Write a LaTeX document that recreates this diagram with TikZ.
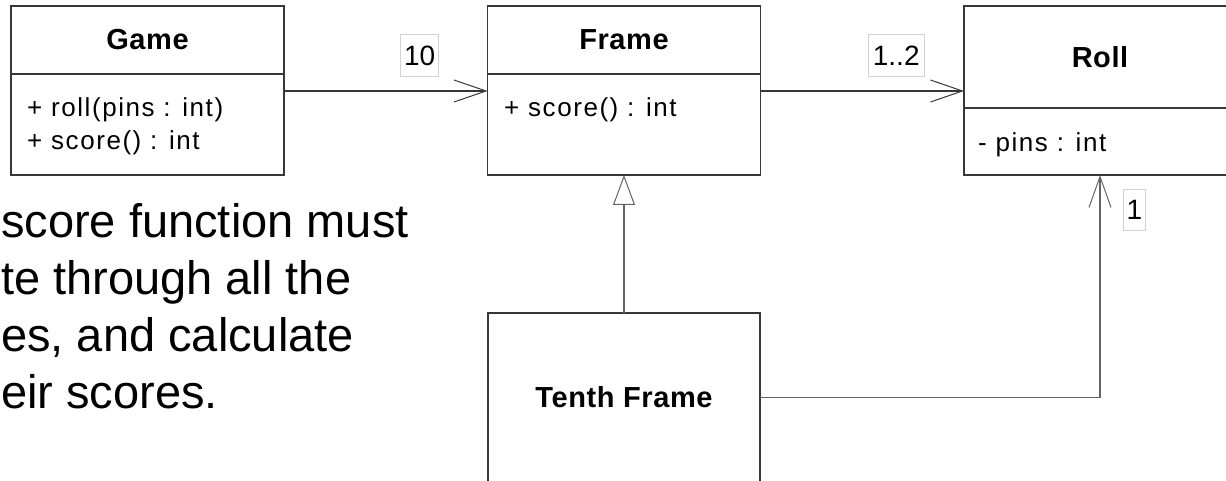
\documentclass[tikz,border=0pt]{standalone}
\usepackage{fontspec}
\setmainfont{Liberation Sans}
\newfontfamily\umlfont[LetterSpace=6]{Liberation Sans}
\newfontfamily\headfont[LetterSpace=2]{Liberation Sans}
\usetikzlibrary{arrows.meta,positioning}
\definecolor{boxgray}{RGB}{55,55,55}
\definecolor{linkgray}{RGB}{100,100,100}
\definecolor{tagborder}{RGB}{210,210,210}

\begin{document}
\begin{tikzpicture}[
  x=1pt, y=-1pt,
  classhead/.style={
    draw=boxgray,
    line width=1.2pt,
    minimum width=273pt,
    minimum height=68pt,
    inner sep=0pt, outer sep=0pt,
    font=\headfont\fontsize{29}{33}\selectfont\bfseries
  },
  classbody/.style={
    draw=boxgray,
    line width=1.2pt,
    minimum width=273pt,
    minimum height=101pt,
    inner sep=0pt, outer sep=0pt
  },
  member/.style={inner sep=0pt, font=\umlfont\fontsize{26}{33}\selectfont},
  tag/.style={draw=tagborder, line width=0.8pt, inner sep=0pt, font=\fontsize{28}{30}\selectfont},
  assoc/.style={-{Straight Barb[length=32pt,width=22pt,line width=1pt]}, line width=1.2pt, draw=boxgray},
  link/.style={-{Straight Barb[length=31pt,width=22pt,line width=1pt]}, line width=1.2pt, draw=linkgray},
  inherit/.style={-{Triangle[open,length=30pt,width=22pt,line width=1pt]}, line width=1.2pt, draw=linkgray},
  note/.style={inner sep=0pt, align=left, font=\fontsize{47}{57}\selectfont}
]
\useasboundingbox (0,0) rectangle (1226,481);
\clip (0,0) rectangle (1226,481);

% ===== Classes =====
\node[classhead] (gamehead) at (147.5,40) {Game};
\node[classbody, below=0pt of gamehead] (gamebody) {};
\node[member, anchor=base west] (gameroll) at (27,117) {+ roll(pins : int)};
\node[member, anchor=base west] (gamescore) at (27,150) {+ score() : int};

\node[classhead] (framehead) at (624,40) {Frame};
\node[classbody, below=0pt of framehead] (framebody) {};
\node[member, anchor=base west] (framescore) at (504,117) {+ score() : int};

\node[classhead, minimum width=272pt, minimum height=102pt] (rollhead) at (1100,57) {Roll};
\node[classbody, minimum width=272pt, minimum height=67pt, below=0pt of rollhead] (rollbody) {};
\node[member, anchor=base west] (rollpins) at (978,152) {- pins : int};

\node[classhead, minimum width=272pt, minimum height=169pt] (tenth) at (624,397.5) {Tenth Frame};

% ===== Relations =====
\draw[assoc] ([yshift=-17pt]gamebody.north east) -- ([yshift=-17pt]framebody.north west)
  node[tag, minimum width=38pt, minimum height=42pt, pos=0.667, above=14pt] (tenlbl) {10};
\draw[assoc] ([yshift=-17pt]framebody.north east) -- ([yshift=17pt]rollhead.south west)
  node[tag, minimum width=56pt, minimum height=42pt, pos=0.667, above=14pt] (rollslbl) {1..2};
\draw[inherit] (tenth.north) -- (framebody.south);
\draw[link] (tenth.east) -| (rollbody.south);
\node[tag, minimum width=22pt, minimum height=41pt, anchor=north west] (onelbl)
  at ([xshift=23pt,yshift=-14pt]rollbody.south) {1};

% ===== Note =====
\node[note, anchor=north west] (scorenote) at (1,203)
  {score function must\\te through all the\\es, and calculate\\eir scores.};

\end{tikzpicture}
\end{document}
